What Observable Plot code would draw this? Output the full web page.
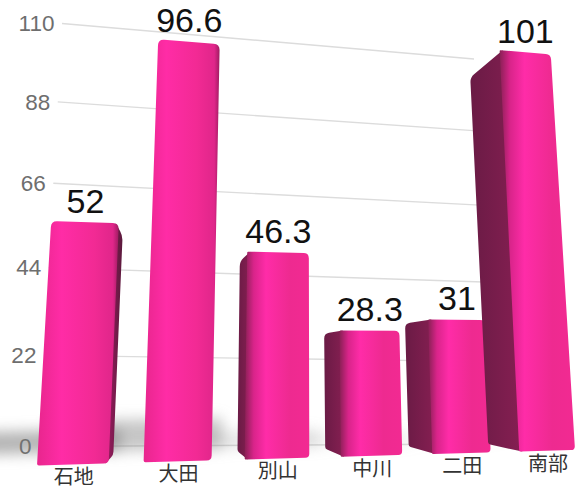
<!DOCTYPE html>
<html><head><meta charset="utf-8">
<style>html,body{margin:0;padding:0;background:#fff}svg{display:block}</style>
<script src="https://cdn.jsdelivr.net/npm/d3@7"></script>
<script src="https://cdn.jsdelivr.net/npm/@observablehq/plot@0.6"></script>
</head><body>
<script>
const names = ["石地","大田","別山","中川","二田","南部"];
const values = [52,96.6,46.3,28.3,31,101];
const yTicks = [0,22,44,66,88,110];
const shadowAlpha = [0.55,0.42,0.2,0.12,0.04,0.02];
const shadowRise = [7,9,6,5,4,4];
const rows = names.map((name,i)=>({name,value:values[i],shadow:shadowAlpha[i],rise:shadowRise[i]}));

const W=578,Hh=486,M=30;
const plot = Plot.plot({
  width:W,height:Hh,margin:M,
  style:{background:"#fff",overflow:"visible"},
  x:{domain:names,padding:0.33,align:0.5,label:null},
  y:{domain:[0,110],label:null},
  marks:[
    Plot.gridY(yTicks,{stroke:"#dcdcdc",strokeOpacity:1,strokeWidth:1.4}),
    Plot.axisY(yTicks,{anchor:"left",tickSize:0,tickPadding:0,label:null,fontSize:22.5,fill:"#6e6e6e",fontFamily:"Liberation Sans, sans-serif",tickFormat:d=>String(d)}),
    Plot.barY(rows,{x:"name",y1:()=>2.5,y2:"rise",insetLeft:-72,insetRight:-8,fill:"#777",fillOpacity:"shadow"}),
    Plot.barY(rows,{x:"name",y:"value",fill:"#f0288f"}),
    Plot.axisX({anchor:"bottom",tickSize:0,tickPadding:0,label:null,fontSize:20,fill:"#333",fontFamily:"Noto Sans CJK JP"}),
    Plot.text(rows,{x:"name",y:"value",text:d=>String(d.value),fontSize:34,fill:"#111",fontFamily:"Liberation Sans, sans-serif"})
  ]
});
document.body.appendChild(plot);

// perspective of the photographed scene: flat plot frame -> picture quad
function quadMap(q){ // q: [u0v0, u1v0, u1v1, u0v1]
  const [[x0,y0],[x1,y1],[x2,y2],[x3,y3]]=q;
  const dx1=x1-x2,dx2=x3-x2,sx=x0-x1+x2-x3,dy1=y1-y2,dy2=y3-y2,sy=y0-y1+y2-y3;
  const den=dx1*dy2-dx2*dy1,g=(sx*dy2-dx2*sy)/den,h=(dx1*sy-sx*dy1)/den;
  const a=x1-x0+g*x1,b=x3-x0+h*x3,d=y1-y0+g*y1,e=y3-y0+h*y3;
  return (u,v)=>{const w=g*u+h*v+1;return [(a*u+b*v+x0)/w,(d*u+e*v+y0)/w];};
}
const xS=plot.scale("x"),yS=plot.scale("y");
const bw=xS.bandwidth, bL=xS.apply(names[0]), bR=xS.apply(names[5])+bw;
const y0=yS.apply(0), y100=yS.apply(100), y110=yS.apply(110);
const frontQ=quadMap([[37,465.5],[575,450],[551,58],[63,18]]);
const front=(fx,fy)=>frontQ((fx-bL)/(bR-bL),(y0-fy)/(y0-y100));
const wallQ=quadMap([[39,446.5],[490,444],[474,59],[62,23.5]]);
const wall=(fx,fy)=>wallQ((fx-M)/(W-2*M),(y0-fy)/(y0-y110));
const V=[162,365],depth=0.087;
const back=p=>[p[0]+depth*(V[0]-p[0]),p[1]+depth*(V[1]-p[1])];

const svg=d3.select(plot);
svg.append("defs").html(`
<linearGradient id="gRight" x1="0" x2="1" y1="0" y2="0">
 <stop offset="0" stop-color="#e8268d"/><stop offset=".3" stop-color="#ff2ca6"/>
 <stop offset=".7" stop-color="#f22a94"/><stop offset=".93" stop-color="#e0268a"/><stop offset="1" stop-color="#a01c62"/></linearGradient>
<linearGradient id="gLeft" x1="0" x2="1" y1="0" y2="0">
 <stop offset="0" stop-color="#8a2055"/><stop offset=".14" stop-color="#d9248a"/><stop offset=".33" stop-color="#ff2ca8"/>
 <stop offset=".7" stop-color="#ee2a90"/><stop offset="1" stop-color="#f22a92"/></linearGradient>
<linearGradient id="gSide" x1="0" x2="1" y1="0" y2="0">
 <stop offset="0" stop-color="#6a1b45"/><stop offset="1" stop-color="#861f52"/></linearGradient>
<linearGradient id="gSideR" x1="0" x2="1" y1="0" y2="0">
 <stop offset="0" stop-color="#a01c62"/><stop offset="1" stop-color="#5a1a3c"/></linearGradient>`);

function rounded(pts,r){ // closed path with corners rounded
  let d="";
  pts.forEach((p,i)=>{
    const a=pts[(i+pts.length-1)%pts.length],b=pts[(i+1)%pts.length];
    const to=(q,l)=>{const n=Math.hypot(q[0]-p[0],q[1]-p[1]);const t=Math.min(l,n/2)/n;return [p[0]+(q[0]-p[0])*t,p[1]+(q[1]-p[1])*t];};
    const s=to(a,r[i]),e=to(b,r[i]);
    d+=(i?"L":"M")+s+"Q"+p+" "+e;
  });
  return d+"Z";
}
const rectCorners=(el,map)=>{
  const x=+el.getAttribute("x"),y=+el.getAttribute("y"),w=+el.getAttribute("width"),h=+el.getAttribute("height");
  return [map(x,y+h),map(x+w,y+h),map(x+w,y),map(x,y)];
};
const clearT=g=>g.removeAttribute("transform");

// grid lines onto the back wall
svg.selectAll('g[aria-label="y-grid"]').each(function(){
  clearT(this);
  d3.select(this).selectAll("line").each(function(){
    const a=wall(+this.getAttribute("x1")||M,+this.getAttribute("y1")),b=wall(+this.getAttribute("x2")||W-M,+this.getAttribute("y2"));
    d3.select(this).attr("x1",a[0]).attr("y1",a[1]).attr("x2",b[0]).attr("y2",b[1]);
  });
});
function moveText(label,map,dx,dy){
  const list=[];
  svg.selectAll(`g[aria-label="${label}"] text`).each(function(){
    const m=this.getCTM();list.push([this,m.e,m.f]);
  });
  list.forEach(([t,fx,fy])=>{
    const p=map(fx,fy);
    t.setAttribute("transform",`translate(${p[0]+dx},${p[1]+dy})`);
  });
  svg.selectAll(`g[aria-label="${label}"]`).each(function(){clearT(this)});
}
moveText("y-axis tick label",wall,-8,0);
moveText("x-axis tick label",front,0,5);
moveText("text",front,-0.5,-21);

const barGroups=plot.querySelectorAll('g[aria-label="bar"]');
// soft floor shadow
{
  const g=barGroups[0];
  clearT(g);g.style.filter="blur(7px)";
  [...g.querySelectorAll("rect")].forEach(el=>{
    const c=rectCorners(el,front);
    const p=document.createElementNS("http://www.w3.org/2000/svg","path");
    p.setAttribute("d",rounded(c,[0,0,0,0]));
    p.setAttribute("fill-opacity",el.getAttribute("fill-opacity"));
    el.replaceWith(p);
  });
}
// bars: front face plus the visible side face
{
  const g=barGroups[1];
  clearT(g);
  [...g.querySelectorAll("rect")].forEach(el=>{
    const c=rectCorners(el,front);// bl, br, tr, tl
    const side=c[3][0]>V[0]?"left":c[2][0]<V[0]?"right":null;
    if(side){
      const a=side==="left"?c[0]:c[1],b=side==="left"?c[3]:c[2];
      const under=side==="left"?3:-3; // side face runs slightly beneath the front face
      const ai=[a[0]+under,a[1]],bi=[b[0]+under,b[1]];
      const s=document.createElementNS("http://www.w3.org/2000/svg","path");
      const poly=side==="left"?[back(a),ai,bi,back(b)]:[ai,back(a),back(b),bi];
      s.setAttribute("d",rounded(poly,side==="left"?[2,0,0,5]:[0,3,5,0]));
      s.setAttribute("fill",side==="left"?"url(#gSide)":"url(#gSideR)");
      g.insertBefore(s,el);
    }
    const p=document.createElementNS("http://www.w3.org/2000/svg","path");
    p.setAttribute("d",rounded(c,side==="left"?[1,4,5,1]:[2,5,6,6]));
    p.setAttribute("fill",side==="left"?"url(#gLeft)":"url(#gRight)");
    el.replaceWith(p);
  });
}
</script>
</body></html>
